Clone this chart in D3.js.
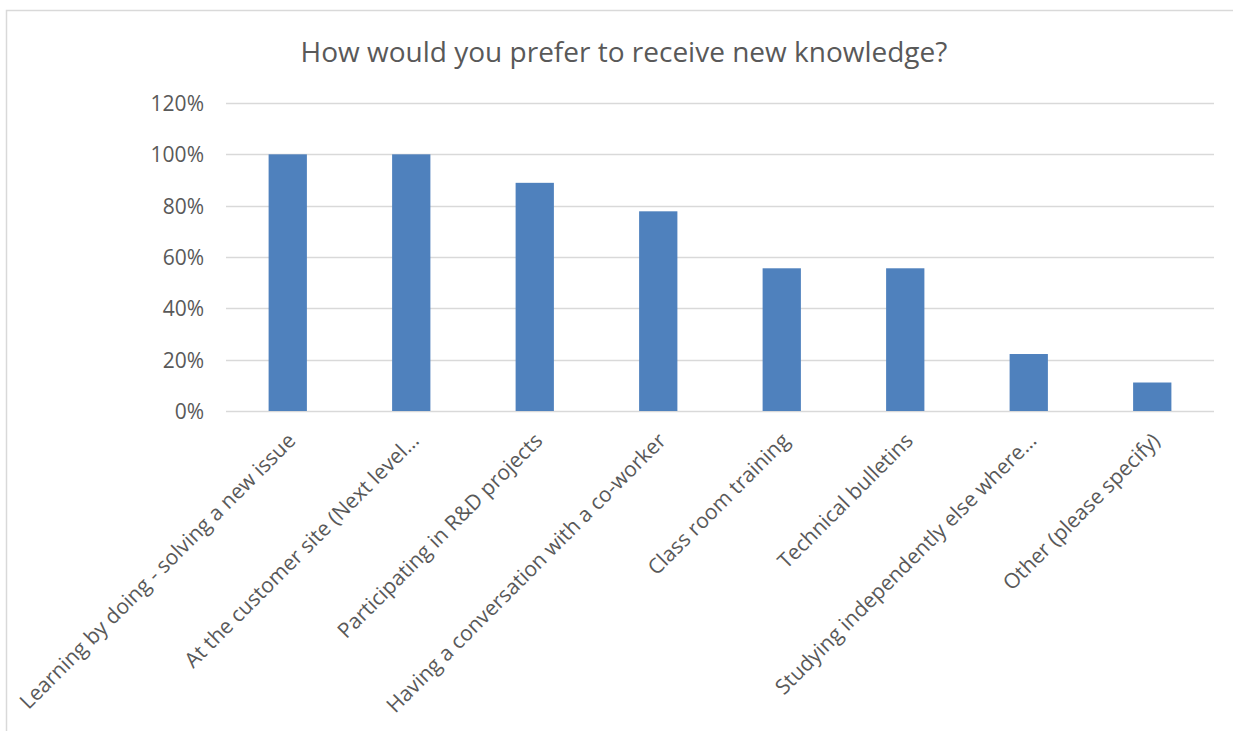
<!DOCTYPE html>
<html><head><meta charset="utf-8">
<script src="https://cdn.jsdelivr.net/npm/d3@7"></script>
<style>body{margin:0;background:#fff}svg{display:block}text{font-family:"Open Sans",sans-serif;fill:#595959}</style>
</head><body><svg id="c" width="1233" height="731"></svg>
<script>
const title = "How would you prefer to receive new knowledge?";
const categories = ["Learning by doing - solving a new issue","At the customer site (Next level…","Participating in R&D projects","Having a conversation with a co-worker","Class room training","Technical bulletins","Studying independently else where…","Other (please specify)"];
const values = [1.0, 1.0, 0.889, 0.778, 0.556, 0.556, 0.222, 0.111];
const yTicks = [0, 0.2, 0.4, 0.6, 0.8, 1.0, 1.2];

const svg = d3.select("#c");
svg.append("rect").attr("x",6.5).attr("y",10.5).attr("width",1240).attr("height",740).attr("fill","#fff").attr("stroke","#d9d9d9").attr("stroke-width",1.5);

const x = d3.scaleBand().domain(categories).range([226,1214]).paddingInner(0.69).paddingOuter(0.345);
const y = d3.scaleLinear().domain([0,1.2]).range([411,103]);

svg.append("text").attr("x",624).attr("y",62).attr("text-anchor","middle").style("font-size","28px").text(title);

const grid = svg.append("g");
grid.selectAll("line").data(yTicks).join("line")
  .attr("x1",226).attr("x2",1214).attr("y1",d=>Math.round(y(d))+0.5).attr("y2",d=>Math.round(y(d))+0.5)
  .attr("stroke","#d9d9d9").attr("stroke-width",1.5);

const yAxis = d3.axisLeft(y).tickValues(yTicks).tickFormat(d3.format(".0%")).tickSize(0).tickPadding(0);
const ya = svg.append("g").attr("transform","translate(204,0)").call(yAxis);
ya.select(".domain").remove();
ya.selectAll("text").style("font-size","21px").attr("fill","#595959").attr("dy","0.35em");

svg.append("g").selectAll("rect").data(values).join("rect")
  .attr("x",(d,i)=>x(categories[i])).attr("width",x.bandwidth())
  .attr("y",d=>y(d)).attr("height",d=>y(0)-y(d)).attr("fill","#4f81bd");

const xa = svg.append("g");
xa.selectAll("text").data(categories).join("text")
  .attr("transform",d=>`translate(${x(d)+x.bandwidth()/2+9},442) rotate(-45)`)
  .attr("text-anchor","end").style("font-size","21px").text(d=>d);
</script></body></html>
